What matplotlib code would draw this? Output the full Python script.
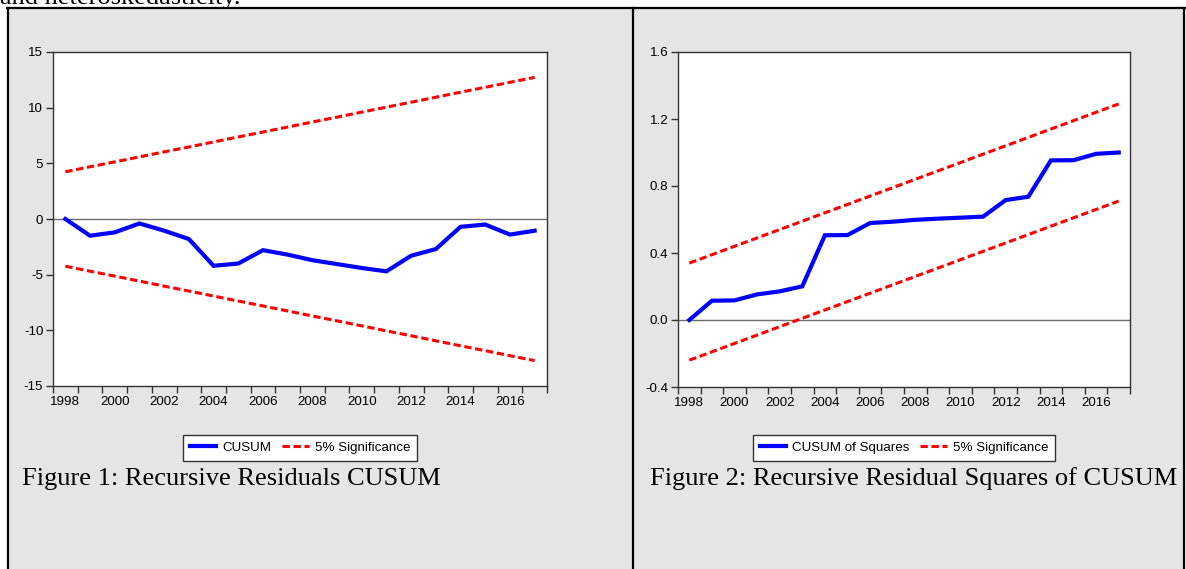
import numpy as np
import matplotlib.pyplot as plt
from matplotlib import font_manager
from matplotlib.patches import Rectangle
from matplotlib.lines import Line2D

years = list(range(1998, 2018))

# recursive residuals CUSUM and its 5% bounds
cusum = [0.0, -1.5, -1.2, -0.4, -1.05, -1.8, -4.2, -4.0, -2.8, -3.2,
         -3.7, -4.05, -4.4, -4.7, -3.3, -2.7, -0.7, -0.5, -1.4, -1.05]
cusum_upper = [4.24, 4.69, 5.13, 5.58, 6.03, 6.47, 6.92, 7.37, 7.81, 8.26,
               8.71, 9.15, 9.60, 10.05, 10.49, 10.94, 11.39, 11.83, 12.28, 12.72]
cusum_lower = [-v for v in cusum_upper]

# CUSUM of squares and its 5% bounds
cusumsq = [0.0, 0.115, 0.117, 0.153, 0.171, 0.201, 0.506, 0.507, 0.579, 0.587,
           0.598, 0.605, 0.611, 0.617, 0.716, 0.736, 0.953, 0.954, 0.992, 1.0]
sq_upper = [0.34, 0.39, 0.44, 0.49, 0.54, 0.59, 0.64, 0.69, 0.74, 0.79,
            0.84, 0.89, 0.94, 0.99, 1.04, 1.09, 1.14, 1.19, 1.24, 1.29]
sq_lower = [-0.24, -0.19, -0.14, -0.09, -0.04, 0.01, 0.06, 0.11, 0.16, 0.21,
            0.26, 0.31, 0.36, 0.41, 0.46, 0.51, 0.56, 0.61, 0.66, 0.71]

W, H = 1186, 569
names = {f.name for f in font_manager.fontManager.ttflist}
narrow = 'Liberation Sans Narrow' in names
plt.rcParams['font.family'] = (['Liberation Sans Narrow'] if narrow else []) + \
    ['Liberation Sans', 'DejaVu Sans']
fs = 11 if narrow else 9.6

fig = plt.figure(figsize=(W / 100, H / 100), dpi=100, facecolor='white')


def px(x0, y0, x1, y1):
    # pixel box -> figure fraction [left, bottom, width, height]
    return [x0 / W, 1 - y1 / H, (x1 - x0) / W, (y1 - y0) / H]


# table cells behind the charts
fig.patches.append(Rectangle((8 / W, 0), (1184 - 8) / W, 1 - 8 / H,
                             transform=fig.transFigure, facecolor='#e5e5e5',
                             edgecolor='none', zorder=-10))
for xs, ys in [([8, 8], [8, H]), ([633, 633], [8, H]), ([1184, 1184], [8, H]),
               ([7, 1185], [8, 8])]:
    fig.add_artist(Line2D([x / W for x in xs], [1 - y / H for y in ys],
                          color='black', lw=1.6, transform=fig.transFigure,
                          zorder=5))

fig.text(0.0, 1 - 4 / H, 'and heteroskedasticity.', family='Liberation Serif',
         fontsize=19, va='baseline', ha='left')

blue = '#0000ff'
red = '#ff0000'


def draw_panel(box, y, up, lo, yticks, yfmt, label):
    ax = fig.add_axes(px(*box), zorder=2)
    ax.set_facecolor('white')
    ax.axhline(0, color='#6e6e6e', lw=1.0, zorder=1)
    ax.plot(years, y, color=blue, lw=3.0, solid_joinstyle='miter', zorder=3,
            label=label)
    ax.plot(years, up, color=red, lw=2.2, dashes=(2.4, 1.2), zorder=2,
            label='5% Significance')
    ax.plot(years, lo, color=red, lw=2.2, dashes=(2.4, 1.2), zorder=2)
    ax.set_xlim(1997.5, 2017.5)
    ax.set_ylim(yticks[0], yticks[-1])
    ax.set_yticks(yticks)
    ax.set_yticklabels([yfmt.format(v) for v in yticks])
    ax.set_xticks(years[::2])
    ax.set_xticks(np.arange(1997.5, 2018, 1.0), minor=True)
    ax.tick_params(axis='x', which='major', length=0, pad=7, labelsize=fs)
    ax.tick_params(axis='x', which='minor', length=5, width=1, color='#333333')
    ax.tick_params(axis='y', length=5, width=1, color='#333333', pad=2,
                   labelsize=fs)
    for s in ax.spines.values():
        s.set_color('#333333')
        s.set_linewidth(1.0)
    return ax


ax1 = draw_panel((53, 52, 547, 386), cusum, cusum_upper, cusum_lower,
                 [-15, -10, -5, 0, 5, 10, 15], '{:d}', 'CUSUM')
ax2 = draw_panel((678, 52, 1130, 387), cusumsq, sq_upper, sq_lower,
                 [-0.4, 0.0, 0.4, 0.8, 1.2, 1.6], '{:.1f}', 'CUSUM of Squares')

for ax, cx in [(ax1, 300), (ax2, 904)]:
    leg = ax.legend(loc='center', bbox_to_anchor=(cx / W, 1 - 448 / H),
                    bbox_transform=fig.transFigure, ncol=2, fontsize=fs,
                    frameon=True, fancybox=False, framealpha=1,
                    edgecolor='#333333', handlelength=2.0, handletextpad=0.45,
                    columnspacing=0.8, borderpad=0.5)
    leg.get_frame().set_linewidth(1.0)

fig.text(22 / W, 1 - 485 / H, 'Figure 1: Recursive Residuals CUSUM',
         family='Liberation Serif', fontsize=19, va='baseline', ha='left')
fig.text(650 / W, 1 - 485 / H, 'Figure 2: Recursive Residual Squares of CUSUM',
         family='Liberation Serif', fontsize=19, va='baseline', ha='left')

fig.savefig('out.png', dpi=100, facecolor='white')
